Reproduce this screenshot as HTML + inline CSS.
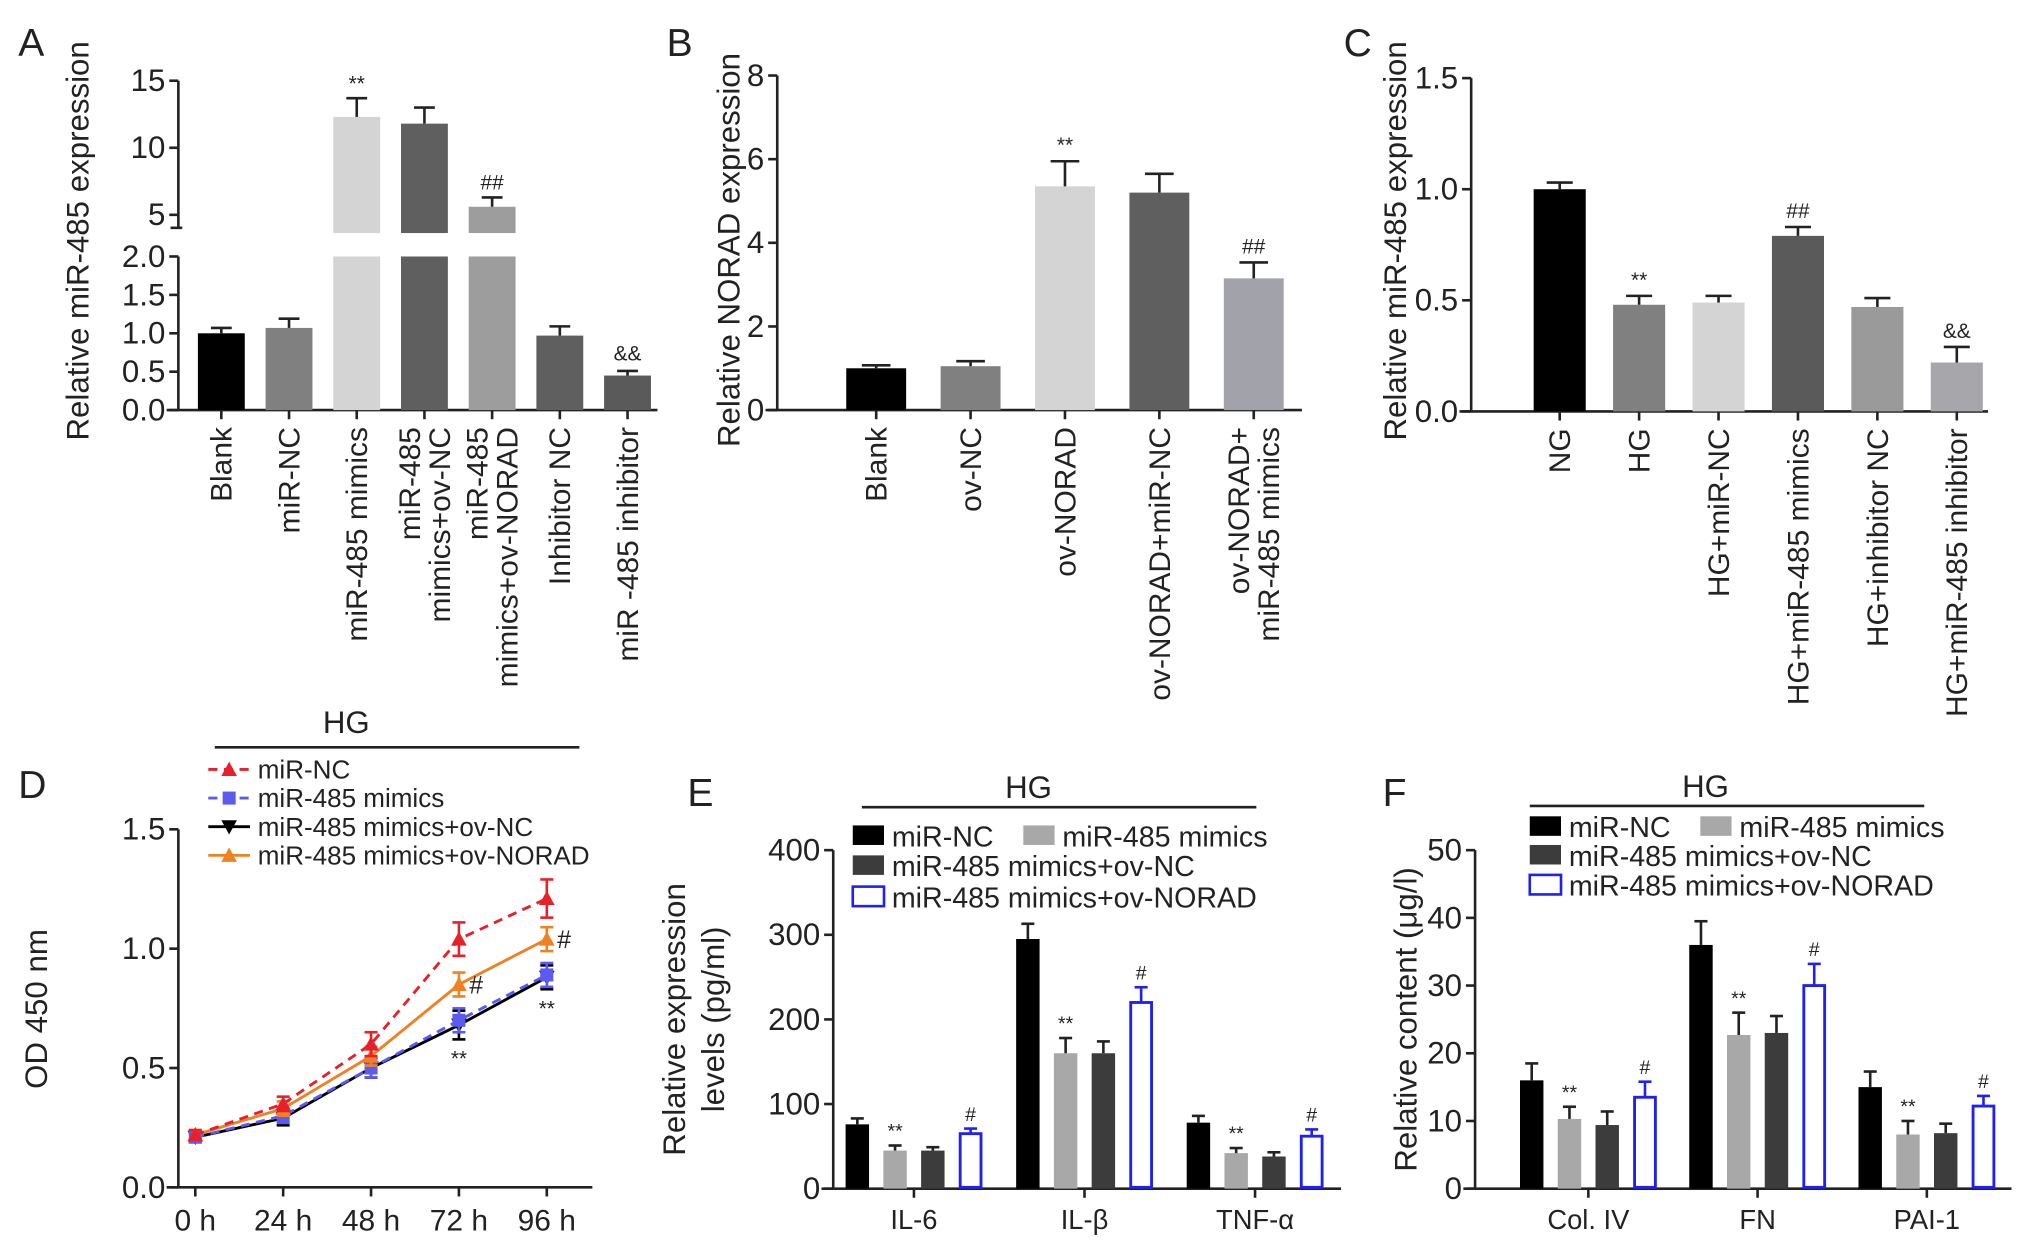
<!DOCTYPE html>
<html><head><meta charset="utf-8"><style>
html,body{margin:0;padding:0;background:#fff}
svg{display:block}
text{font-family:"Liberation Sans",sans-serif;fill:#222}
</style></head><body>
<svg id="fig" xmlns="http://www.w3.org/2000/svg" width="2031" height="1244" viewBox="0 0 1560 955.5"></svg>
<script>
// ---------- Panel A data ----------
const aCats = ["Blank","miR-NC","miR-485 mimics","miR-485|mimics+ov-NC","miR-485|mimics+ov-NORAD","Inhibitor NC","miR -485 inhibitor"];
const aVals = [1.0,1.07,12.3,11.8,5.6,0.97,0.45];
const aErrs = [0.07,0.12,1.4,1.2,0.7,0.12,0.06];
const aMarks = ["","","**","","##","","&&"];
const aLowTicks = [0,0.5,1.0,1.5,2.0];
const aHighTicks = [5,10,15];
// ---------- Panel B data ----------
const bCats = ["Blank","ov-NC","ov-NORAD","ov-NORAD+miR-NC","ov-NORAD+|miR-485 mimics"];
const bVals = [1.0,1.05,5.35,5.2,3.15];
const bErrs = [0.07,0.12,0.6,0.45,0.38];
const bMarks = ["","","**","","##"];
const bTicks = [0,2,4,6,8];
// ---------- Panel C data ----------
const cCats = ["NG","HG","HG+miR-NC","HG+miR-485 mimics","HG+inhibitor NC","HG+miR-485 inhibitor"];
const cVals = [1.0,0.48,0.49,0.79,0.47,0.22];
const cErrs = [0.03,0.04,0.03,0.04,0.04,0.07];
const cMarks = ["","**","","##","","&&"];
const cTicks = [0.0,0.5,1.0,1.5];
// ---------- Panel D data ----------
const dTimes = ["0 h","24 h","48 h","72 h","96 h"];
const dSeriesNames = ["miR-NC","miR-485 mimics","miR-485 mimics+ov-NC","miR-485 mimics+ov-NORAD"];
const dNC = [0.22,0.35,0.60,1.04,1.21];
const dNCerr = [0.02,0.03,0.05,0.07,0.08];
const dMim = [0.21,0.30,0.50,0.70,0.89];
const dMimErr = [0.02,0.03,0.04,0.05,0.05];
const dOvNC = [0.21,0.29,0.50,0.68,0.88];
const dOvNCerr = [0.02,0.03,0.04,0.06,0.05];
const dOvNORAD = [0.22,0.33,0.55,0.85,1.04];
const dOvNORADerr = [0.02,0.03,0.04,0.05,0.05];
const dTicks = [0.0,0.5,1.0,1.5];
// ---------- Panel E data ----------
const eGroups = ["IL-6","IL-β","TNF-α"];
const eNC = [76,295,78];   const eNCerr = [7,18,8];
const eMim = [45,160,42];  const eMimErr = [6,18,6];
const eOvNC = [45,160,38]; const eOvNCerr = [4,14,5];
const eOvN = [65,220,62];  const eOvNerr = [6,18,8];
const eMarksMim = ["**","**","**"];
const eMarksOvN = ["#","#","#"];
const eTicks = [0,100,200,300,400];
// ---------- Panel F data ----------
const fGroups = ["Col. IV","FN","PAI-1"];
const fNC = [16,36,15];    const fNCerr = [2.5,3.5,2.3];
const fMim = [10.3,22.7,8];const fMimErr = [1.8,3.3,2];
const fOvNC = [9.4,23,8.2];const fOvNCerr = [2,2.5,1.4];
const fOvN = [13.5,30,12.2];const fOvNerr = [2.3,3.2,1.5];
const fTicks = [0,10,20,30,40,50];

const TICK=24, CAT=23, TITLE=24;
const svg = document.getElementById('fig');
const NS = "http://www.w3.org/2000/svg";
function mk(tag, attrs, parent){const e=document.createElementNS(NS,tag);for(const k in attrs)e.setAttribute(k,attrs[k]);(parent||svg).appendChild(e);return e;}
function txt(x,y,s,size,anchor,parent,extra){const t=mk('text',Object.assign({x:x,y:y,'font-size':size,'text-anchor':anchor||'start'},extra||{}),parent);t.textContent=s;return t;}
function line(x1,y1,x2,y2,parent,stroke,w,dash){const a={x1:x1,y1:y1,x2:x2,y2:y2,stroke:stroke||'#222','stroke-width':w||2};if(dash)a['stroke-dasharray']=dash;return mk('line',a,parent);}
function grp(name){const g=mk('g',{});return g;}
function rotLabel(x,y,label,size,parent){
  const parts=label.split('|');
  const n=parts.length;
  parts.forEach((p,i)=>{
    const dx=x+(i-(n-1)/2)*23+8;
    const t=txt(dx,y,p,size,'end',parent,{transform:'rotate(-90 '+dx+' '+y+')'});
    
    
  });
}
function panelLetter(x,y,s){const t=txt(x,y,s,30,'start');}
function yTitle(x,y,s,size){const t=txt(x,y,s,size,'middle',svg,{transform:'rotate(-90 '+x+' '+y+')'});return t;}
function errUp(cx,yTop,yErr,half,g,color){line(cx,yTop,cx,yErr,g,color||'#222',2);line(cx-half,yErr,cx+half,yErr,g,color||'#222',2);}

// ================= Panel A =================
(function(){
  const g=grp('panel-a');
  panelLetter(14,43,'A');
  const ax=137, y0=315, yLowTop=197, breakY=179;
  const yL=v=>y0-(v/2)*(y0-yLowTop);
  const yH=v=>165-(v-5)*(165-62)/10;
  const xs=i=>170+i*52;
  line(ax,yLowTop,ax,y0,g);line(ax,62,ax,breakY-4,g);
  line(ax-6,breakY-4,ax+3,breakY-4,g);
  line(128,y0,505,y0,g);
  aLowTicks.forEach(v=>{line(ax-7,yL(v),ax,yL(v),g);txt(ax-10,yL(v)+8,v.toFixed(1),TICK,'end',g);});
  aHighTicks.forEach(v=>{line(ax-7,yH(v),ax,yH(v),g);txt(ax-10,yH(v)+8,String(v),TICK,'end',g);});
  const cols=['#000','#808080','#d4d4d4','#5f5f5f','#9d9d9d','#5f5f5f','#5a5a5a'];
  aVals.forEach((v,i)=>{
    const cx=xs(i),w=36;
    if(v<=2){
      const r=mk('rect',{x:cx-w/2,y:yL(v),width:w,height:y0-yL(v),fill:cols[i]},g);
      
      errUp(cx,yL(v),yL(v+aErrs[i]),8,g);
      if(aMarks[i])txt(cx,yL(v+aErrs[i])-8,aMarks[i],16,'middle',g);
    }else{
      const r=mk('rect',{x:cx-w/2,y:yLowTop,width:w,height:y0-yLowTop,fill:cols[i]},g);
      
      const r2=mk('rect',{x:cx-w/2,y:yH(v),width:w,height:breakY-yH(v),fill:cols[i]},g);
      
      errUp(cx,yH(v),yH(v+aErrs[i]),8,g);
      if(aMarks[i])txt(cx,yH(v+aErrs[i])-6,aMarks[i],16,'middle',g);
    }
    line(cx,y0,cx,y0+7,g);
    rotLabel(cx,y0+13,aCats[i],CAT,g);
  });
  yTitle(68,185,'Relative miR-485 expression',TITLE);
})();

// ================= Panel B =================
(function(){
  const g=grp('panel-b');
  panelLetter(512,43,'B');
  const ax=597,y0=315,yTop=58;
  const y=v=>y0-v/8*(y0-yTop);
  const xs=i=>673+i*72.5;
  line(ax,yTop,ax,y0,g);line(588,y0,1000,y0,g);
  bTicks.forEach(v=>{line(ax-7,y(v),ax,y(v),g);txt(ax-10,y(v)+8,String(v),TICK,'end',g);});
  const cols=['#000','#808080','#d4d4d4','#5f5f5f','#a2a2aa'];
  bVals.forEach((v,i)=>{
    const cx=xs(i),w=46;
    const r=mk('rect',{x:cx-w/2,y:y(v),width:w,height:y0-y(v),fill:cols[i]},g);
    
    errUp(cx,y(v),y(v+bErrs[i]),11,g);
    if(bMarks[i])txt(cx,y(v+bErrs[i])-7,bMarks[i],16,'middle',g);
    line(cx,y0,cx,y0+7,g);
    rotLabel(cx,y0+13,bCats[i],CAT,g);
  });
  yTitle(568,192,'Relative NORAD expression',TITLE);
})();

// ================= Panel C =================
(function(){
  const g=grp('panel-c');
  panelLetter(1032,43,'C');
  const ax=1130,y0=316,yTop=60;
  const y=v=>y0-v/1.5*(y0-yTop);
  const xs=i=>1198+i*61;
  line(ax,yTop,ax,y0,g);line(1121,y0,1527,y0,g);
  cTicks.forEach(v=>{line(ax-7,y(v),ax,y(v),g);txt(ax-10,y(v)+8,v.toFixed(1),TICK,'end',g);});
  const cols=['#000','#808080','#d4d4d4','#5a5a5a','#9a9a9a','#a6a6ab'];
  cVals.forEach((v,i)=>{
    const cx=xs(i),w=40;
    const r=mk('rect',{x:cx-w/2,y:y(v),width:w,height:y0-y(v),fill:cols[i]},g);
    
    errUp(cx,y(v),y(v+cErrs[i]),10,g);
    if(cMarks[i])txt(cx,y(v+cErrs[i])-7,cMarks[i],16,'middle',g);
    line(cx,y0,cx,y0+7,g);
    rotLabel(cx,y0+13,cCats[i],CAT,g);
  });
  yTitle(1080,185,'Relative miR-485 expression',TITLE);
})();

// ================= Panel D =================
(function(){
  const g=grp('panel-d');
  panelLetter(14,613,'D');
  txt(266,563,'HG',24,'middle',g);line(165,574,445,574,g);
  const ax=137,y0=912,yTop=637;
  const y=v=>y0-v/1.5*(y0-yTop);
  const xs=i=>150+i*67.5;
  line(ax,yTop,ax,y0,g);line(128,y0,455,y0,g);
  dTicks.forEach(v=>{line(ax-7,y(v),ax,y(v),g);txt(ax-10,y(v)+8,v.toFixed(1),TICK,'end',g);});
  dTimes.forEach((t,i)=>{line(xs(i),y0,xs(i),y0+7,g);txt(xs(i),y0+33,t,23,'middle',g);});
  const series=[
    {v:dOvNC,e:dOvNCerr,c:'#000',dash:null,m:'down'},
    {v:dMim,e:dMimErr,c:'#5b5bf0',dash:'7,5',m:'sq'},
    {v:dOvNORAD,e:dOvNORADerr,c:'#f08020',dash:null,m:'up'},
    {v:dNC,e:dNCerr,c:'#e8202a',dash:'7,5',m:'up'}];
  function marker(cx,cy,m,c,p){
    if(m==='sq')return mk('rect',{x:cx-5,y:cy-5,width:10,height:10,fill:c},p);
    if(m==='up')return mk('polygon',{points:`${cx},${cy-6} ${cx-6},${cy+5} ${cx+6},${cy+5}`,fill:c},p);
    return mk('polygon',{points:`${cx},${cy+6} ${cx-6},${cy-5} ${cx+6},${cy-5}`,fill:c},p);
  }
  series.forEach((s,si)=>{
    const pts=s.v.map((v,i)=>xs(i)+','+y(v)).join(' ');
    const pl=mk('polyline',{points:pts,fill:'none',stroke:s.c,'stroke-width':2.2},g);
    if(s.dash)pl.setAttribute('stroke-dasharray',s.dash);
    
    s.v.forEach((v,i)=>{
      const cx=xs(i);
      line(cx,y(v+s.e[i]),cx,y(v-s.e[i]),g,s.c,2);
      line(cx-5,y(v+s.e[i]),cx+5,y(v+s.e[i]),g,s.c,2);
      line(cx-5,y(v-s.e[i]),cx+5,y(v-s.e[i]),g,s.c,2);
      const mm=marker(cx,y(v),s.m,s.c,g);
      
    });
  });
  txt(xs(3),y(dOvNC[3]-dOvNCerr[3])+20,'**',16,'middle',g);
  txt(xs(4),y(dOvNC[4]-dOvNCerr[4])+20,'**',16,'middle',g);
  txt(xs(3)+8,y(dOvNORAD[3])+7,'#',19,'start',g);
  txt(xs(4)+8,y(dOvNORAD[4])+7,'#',19,'start',g);
  const leg=[{c:'#e8202a',dash:'7,5',m:'up'},{c:'#5b5bf0',dash:'7,5',m:'sq'},{c:'#000',dash:null,m:'down'},{c:'#f08020',dash:null,m:'up'}];
  leg.forEach((l,i)=>{
    const ly=591+i*22;
    const e=grp('legend-entry');g.appendChild(e);
    line(160,ly,192,ly,e,l.c,2.2,l.dash);
    marker(176,ly,l.m,l.c,e);
    txt(198,ly+7,dSeriesNames[i],20,'start',e);
  });
  yTitle(36,775,'OD 450 nm',TITLE);
})();

// ============ grouped bar helper ============
function grouped(name,g,opts){
  const {ax,y0,yTop,vmax,ticks,groups,gx,data,errs,xEnd,marks}=opts;
  const y=v=>y0-v/vmax*(y0-yTop);
  line(ax,yTop,ax,y0,g);line(ax-9,y0,xEnd,y0,g);
  ticks.forEach(v=>{line(ax-7,y(v),ax,y(v),g);txt(ax-10,y(v)+8,String(v),TICK,'end',g);});
  const styles=[{f:'#000'},{f:'#a8a8a8'},{f:'#3c3c3c'},{f:'#fff',s:'#2020f0'}];
  groups.forEach((gn,gi)=>{
    const c0=gx(gi);
    for(let k=0;k<4;k++){
      const cx=c0+(k-1.5)*29, v=data[k][gi], w=18;
      const a={x:cx-w/2,y:y(v),width:w,height:y0-y(v),fill:styles[k].f};
      if(styles[k].s){a.stroke=styles[k].s;a['stroke-width']=2.2;a.x+=1;a.width-=2;a.height-=1;}
      const r=mk('rect',a,g);
      
      errUp(cx,y(v),y(v+errs[k][gi]),5,g,styles[k].s||'#222');
      const mk2=marks[k];
      if(mk2&&mk2[gi])txt(cx,y(v+errs[k][gi])-6,mk2[gi],15,'middle',g);
    }
    line(c0,y0,c0,y0+7,g);
    txt(c0,y0+31,gn,21,'middle',g);
  });
}

// ================= Panel E =================
(function(){
  const g=grp('panel-e');
  panelLetter(528,619,'E');
  txt(790,613,'HG',24,'middle',g);line(662,620,965,620,g);
  grouped('e',g,{ax:640,y0:913,yTop:653,vmax:400,ticks:eTicks,groups:eGroups,gx:i=>702+i*131,
    data:[eNC,eMim,eOvNC,eOvN],errs:[eNCerr,eMimErr,eOvNCerr,eOvNerr],xEnd:1030,marks:[null,eMarksMim,null,eMarksOvN]});
  const L=[[655,642,'#000',null,'miR-NC'],[786,642,'#a8a8a8',null,'miR-485 mimics'],[655,665,'#3c3c3c',null,'miR-485 mimics+ov-NC'],[655,689,'#fff','#2020f0','miR-485 mimics+ov-NORAD']];
  L.forEach(l=>{const e=grp('legend-entry');g.appendChild(e);
    const a={x:l[0],y:l[1]-8,width:24,height:15,fill:l[2]};if(l[3]){a.stroke=l[3];a['stroke-width']=2;}
    mk('rect',a,e);txt(l[0]+30,l[1]+8,l[4],22,'start',e);});
  yTitle(526,783,'Relative expression',TITLE);
  yTitle(556,783,'levels (pg/ml)',TITLE);
})();

// ================= Panel F =================
(function(){
  const g=grp('panel-f');
  panelLetter(1062,619,'F');
  txt(1310,612,'HG',24,'middle',g);line(1175,619,1478,619,g);
  grouped('f',g,{ax:1133,y0:913,yTop:653,vmax:50,ticks:fTicks,groups:fGroups,gx:i=>1220+i*130,
    data:[fNC,fMim,fOvNC,fOvN],errs:[fNCerr,fMimErr,fOvNCerr,fOvNerr],xEnd:1545,marks:[null,["**","**","**"],null,["#","#","#"]]});
  const L=[[1175,635,'#000',null,'miR-NC'],[1306,635,'#a8a8a8',null,'miR-485 mimics'],[1175,657,'#3c3c3c',null,'miR-485 mimics+ov-NC'],[1175,680,'#fff','#2020f0','miR-485 mimics+ov-NORAD']];
  L.forEach(l=>{const e=grp('legend-entry');g.appendChild(e);
    const a={x:l[0],y:l[1]-8,width:24,height:15,fill:l[2]};if(l[3]){a.stroke=l[3];a['stroke-width']=2;}
    mk('rect',a,e);txt(l[0]+30,l[1]+8,l[4],22,'start',e);});
  yTitle(1088,783,'Relative content (μg/l)',TITLE);
})();
</script>
</body></html>
